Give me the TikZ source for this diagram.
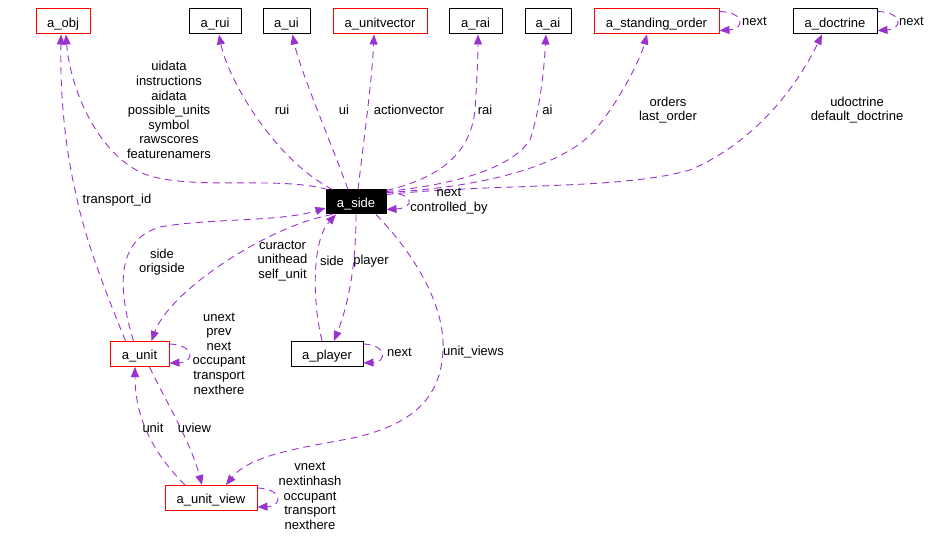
\documentclass[tikz,border=0pt]{standalone}
\usepackage{fontspec}
\setmainfont{Liberation Sans}
\usetikzlibrary{arrows.meta}
\definecolor{edgec}{HTML}{9A32CD}
\definecolor{redc}{HTML}{FF0000}
\tikzset{
 every node/.style={font=\fontsize{13}{14.6}\selectfont},
 cls/.style={draw=black, line width=1pt, minimum height=25pt, inner sep=0pt, text height=11.5pt, text depth=0pt},
 redcls/.style={cls, draw=redc},
 edge/.style={draw=edgec, line width=0.9pt, dash pattern=on 7pt off 5pt, -{Triangle[length=10pt,width=8pt]}},
 lbl/.style={align=center, inner sep=0pt},
}
\begin{document}
\begin{tikzpicture}[x=1pt,y=-1pt]
\useasboundingbox (0,0) rectangle (932,540);
% classes
\node[redcls, minimum width=54pt] (obj) at (63,21.5) {a\_obj};
\node[cls, minimum width=52pt] (rui) at (215,21.5) {a\_rui};
\node[cls, minimum width=47pt] (ui) at (286.5,21.5) {a\_ui};
\node[redcls, minimum width=94pt] (uvec) at (380,21.5) {a\_unitvector};
\node[cls, minimum width=53pt] (rai) at (475.5,21.5) {a\_rai};
\node[cls, minimum width=46pt] (ai) at (548,21.5) {a\_ai};
\node[redcls, minimum width=125pt] (so) at (656.5,21.5) {a\_standing\_order};
\node[cls, minimum width=84pt] (doc) at (835,21.5) {a\_doctrine};
\node[cls, fill=black, text=white, minimum width=60pt, minimum height=24pt] (side) at (356,202) {a\_side};
\node[redcls, minimum width=59pt] (unit) at (139.5,354) {a\_unit};
\node[cls, minimum width=72pt] (player) at (327,354) {a\_player};
\node[redcls, minimum width=92pt] (uview) at (211,498) {a\_unit\_view};

% edges to the top row
\draw[edge] ([xshift=2pt]side.north west) .. controls (280,176) and (200,190) .. (150,176) .. controls (100,160) and (70,90) .. ([xshift=3pt]obj.south);
\draw[edge] ([xshift=-14pt]unit.north) .. controls (105,290) and (85,240) .. (75,190) .. controls (66,150) and (60,100) .. ([xshift=-2pt]obj.south);
\draw[edge] ([xshift=7pt]side.north west) .. controls (275,160) and (228,80) .. ([xshift=4pt]rui.south);
\draw[edge] ([xshift=-8pt]side.north) .. controls (330,140) and (300,70) .. ([xshift=6pt]ui.south);
\draw[edge] ([xshift=2pt]side.north) .. controls (365,130) and (372,80) .. ([xshift=-6pt]uvec.south);
\draw[edge] ([yshift=-1pt]side.north east) .. controls (430,180) and (470,160) .. (475,110) .. controls (477,80) and (478,55) .. ([xshift=2.5pt]rai.south);
\draw[edge] ([yshift=-2pt]side.north east) .. controls (450,185) and (510,170) .. (530,140) .. controls (540,110) and (544,70) .. ([xshift=-2pt]ai.south);
\draw[edge] ([yshift=-3pt]side.north east) .. controls (470,188) and (560,170) .. (595,130) .. controls (620,100) and (640,60) .. ([xshift=-9.5pt]so.south);
\draw[edge] ([yshift=-5pt]side.north east) .. controls (500,183) and (620,190) .. (690,170) .. controls (760,140) and (800,80) .. ([xshift=-13pt]doc.south);

% self loops
\draw[edge] ([yshift=-3pt]so.north east) .. controls (745,12) and (745,29) .. ([yshift=4pt]so.south east);
\draw[edge] ([yshift=-3pt]doc.north east) .. controls (903,12) and (903,29) .. ([yshift=4pt]doc.south east);
\draw[edge] ([yshift=-3pt]side.north east) .. controls (415,193) and (415,208) .. ([yshift=5pt]side.south east);
\draw[edge] ([yshift=-3pt]player.north east) .. controls (387,345) and (387,362) .. ([yshift=4pt]player.south east);
\draw[edge] ([yshift=-3pt]unit.north east) .. controls (195,345) and (195,362) .. ([yshift=4pt]unit.south east);
\draw[edge] ([yshift=-3pt]uview.north east) .. controls (283,489) and (283,506) .. ([yshift=4pt]uview.south east);

% middle edges
\draw[edge] ([xshift=-6pt]unit.north) .. controls (118,290) and (115,240) .. (160,227) .. controls (210,218) and (280,222) .. ([yshift=-6pt]side.west);
\draw[edge] ([xshift=7pt]side.south west) .. controls (270,225) and (170,290) .. ([xshift=12pt]unit.north);
\draw[edge] ([xshift=-5pt]player.north) .. controls (312,300) and (312,240) .. ([xshift=-20pt]side.south);
\draw[edge] (side.south) .. controls (356,260) and (350,300) .. ([xshift=7pt]player.north);
\draw[edge] ([xshift=20pt]side.south) .. controls (420,260) and (445,310) .. (443,350) .. controls (441,400) and (410,425) .. (353,438) .. controls (300,448) and (250,455) .. ([xshift=15pt]uview.north);
\draw[edge] ([xshift=10pt]unit.south) .. controls (165,400) and (190,440) .. ([xshift=-9pt]uview.north);
\draw[edge] ([xshift=-26pt]uview.north) .. controls (155,455) and (135,420) .. ([xshift=-4.5pt]unit.south);

% labels
\node[lbl] (l1) at (169,110) {uidata\\instructions\\aidata\\possible\_units\\symbol\\rawscores\\featurenamers};
\node[lbl] (l2) at (117,200) {transport\_id};
\node[lbl] (l3) at (282,110) {rui};
\node[lbl] (l4) at (344,110) {ui};
\node[lbl] (l5) at (409,110) {actionvector};
\node[lbl] (l6) at (485,110) {rai};
\node[lbl] (l7) at (547.5,110) {ai};
\node[lbl] (l8) at (668,110) {orders\\last\_order};
\node[lbl] (l9) at (857,110) {udoctrine\\default\_doctrine};
\node[lbl, anchor=west] (l10) at (742,21) {next};
\node[lbl, anchor=west] (l11) at (899,21) {next};
\node[lbl] (l12) at (449,201) {next\\controlled\_by};
\node[lbl] (l13) at (162,262) {side\\origside};
\node[lbl] (l14) at (282.5,261) {curactor\\unithead\\self\_unit};
\node[lbl] (l15) at (332,261) {side};
\node[lbl] (l16) at (371,261) {player};
\node[lbl] (l17) at (399.5,352) {next};
\node[lbl] (l18) at (219,353.5) {unext\\prev\\next\\occupant\\transport\\nexthere};
\node[lbl] (l19) at (473.5,352) {unit\_views};
\node[lbl] (l20) at (194.5,428) {uview};
\node[lbl] (l21) at (153,428) {unit};
\node[lbl] (l22) at (310,496) {vnext\\nextinhash\\occupant\\transport\\nexthere};
\end{tikzpicture}
\end{document}
